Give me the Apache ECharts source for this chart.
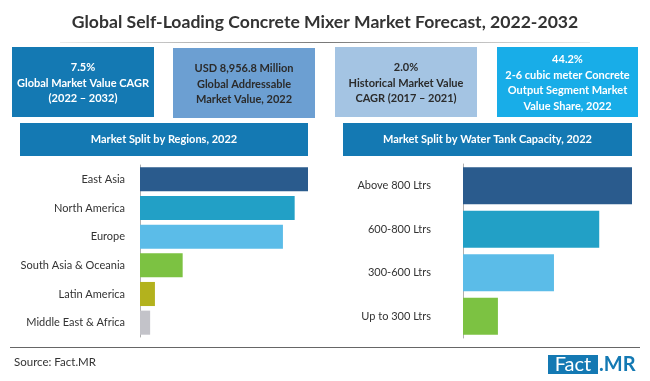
<!DOCTYPE html>
<html>
<head>
<meta charset="utf-8">
<script src="https://cdn.jsdelivr.net/npm/echarts@6/dist/echarts.min.js"></script>
<style>html,body{margin:0;padding:0;background:#fff}#c{width:650px;height:381px}</style>
</head>
<body>
<div id="c"></div>
<script>
var titleText = 'Global Self-Loading Concrete Mixer Market Forecast, 2022-2032';
var kpiTexts = [
  '7.5%\nGlobal Market Value CAGR\n(2022 \u2013 2032)',
  'USD 8,956.8 Million\nGlobal Addressable\nMarket Value, 2022',
  '2.0%\nHistorical Market Value\nCAGR (2017 \u2013 2021)',
  '44.2%\n2-6 cubic meter Concrete\nOutput Segment Market\nValue Share, 2022'
];
var regionTitle = 'Market Split by Regions, 2022';
var regionCategories = ['East Asia', 'North America', 'Europe', 'South Asia & Oceania', 'Latin America', 'Middle East & Africa'];
var regionValues = [31.5, 29.0, 26.8, 8.0, 2.8, 1.9];
var tankTitle = 'Market Split by Water Tank Capacity, 2022';
var tankCategories = ['Above 800 Ltrs', '600-800 Ltrs', '300-600 Ltrs', 'Up to 300 Ltrs'];
var tankValues = [39.2, 31.6, 21.1, 8.1];
var sourceText = 'Source: Fact.MR';

var regionColors = ['#2a5b8d', '#22a0c6', '#5bbce8', '#7cc242', '#b3b21d', '#c3c3c9'];
var tankColors = ['#2a5b8d', '#22a0c6', '#5bbce8', '#7cc242'];
var F = 'Lato, "Noto Sans", sans-serif';

var boxes = [
  {x: 12, y: 47, w: 142, h: 70, fill: '#1479b3', tc: '#ffffff'},
  {x: 173, y: 48, w: 142, h: 70, fill: '#6c9fd2', tc: '#2b2b2b'},
  {x: 335, y: 47, w: 142, h: 70, fill: '#a4c4e3', tc: '#2b2b2b'},
  {x: 497, y: 47, w: 141, h: 70, fill: '#18ade8', tc: '#ffffff'}
];

var graphics = [
  {type: 'text', left: 'center', top: 13, style: {text: titleText, font: 'bold 17.6px ' + F, fill: '#333'}},
  {type: 'rect', shape: {x: 60, y: 42, width: 530, height: 1},
    style: {fill: new echarts.graphic.LinearGradient(0, 0, 1, 0, [
      {offset: 0, color: 'rgba(150,150,150,0.2)'}, {offset: 0.5, color: 'rgba(120,120,120,1)'}, {offset: 1, color: 'rgba(150,150,150,0.2)'}])}},
  {type: 'rect', shape: {x: 10, y: 347, width: 630, height: 1}, style: {fill: '#666'}},
  {type: 'text', x: 14, y: 356, style: {text: sourceText, font: '11.5px ' + F, fill: '#333'}},
  {type: 'rect', shape: {x: 548, y: 355, width: 50, height: 19}, style: {fill: '#1479b3'}},
  {type: 'text', x: 573, y: 365, style: {text: 'Fact', font: '20px ' + F, fill: '#fff', align: 'center', verticalAlign: 'middle'}},
  {type: 'text', x: 599, y: 365, style: {text: '.MR', font: 'bold 20px ' + F, fill: '#1479b3', align: 'left', verticalAlign: 'middle'}},
  {type: 'rect', shape: {x: 20, y: 123, width: 288, height: 33}, style: {fill: '#1479b3'}},
  {type: 'text', x: 164, y: 139.5, style: {text: regionTitle, font: 'bold 11px ' + F, fill: '#fff', align: 'center', verticalAlign: 'middle'}},
  {type: 'rect', shape: {x: 343, y: 123, width: 289, height: 33}, style: {fill: '#1479b3'}},
  {type: 'text', x: 487.5, y: 139.5, style: {text: tankTitle, font: 'bold 11px ' + F, fill: '#fff', align: 'center', verticalAlign: 'middle'}}
];
boxes.forEach(function (b, i) {
  graphics.push({type: 'rect', shape: {x: b.x, y: b.y, width: b.w, height: b.h}, style: {fill: b.fill}});
  graphics.push({type: 'text', x: b.x + b.w / 2, y: b.y + b.h / 2 + 1,
    style: {text: kpiTexts[i], font: 'bold 11px ' + F, lineHeight: 15.5, fill: b.tc, align: 'center', verticalAlign: 'middle'}});
});

var chart = echarts.init(document.getElementById('c'), null, {renderer: 'canvas'});
chart.setOption({
  animation: false,
  backgroundColor: '#fff',
  graphic: graphics,
  grid: [
    {left: 140, width: 168, top: 165, height: 172},
    {left: 463, width: 169, top: 164, height: 174}
  ],
  xAxis: [
    {gridIndex: 0, type: 'value', min: 0, max: regionValues[0], show: false},
    {gridIndex: 1, type: 'value', min: 0, max: tankValues[0], show: false}
  ],
  yAxis: [
    {gridIndex: 0, type: 'category', inverse: true, data: regionCategories,
      axisLine: {show: true, lineStyle: {color: '#b0b0b0'}}, axisTick: {show: false},
      axisLabel: {color: '#333', fontFamily: F, fontSize: 11, margin: 15}},
    {gridIndex: 1, type: 'category', inverse: true, data: tankCategories,
      axisLine: {show: true, lineStyle: {color: '#b0b0b0'}}, axisTick: {show: false},
      axisLabel: {color: '#333', fontFamily: F, fontSize: 11, margin: 32}}
  ],
  series: [
    {type: 'bar', xAxisIndex: 0, yAxisIndex: 0, barCategoryGap: '16%',
      data: regionValues.map(function (v, i) { return {value: v, itemStyle: {color: regionColors[i]}}; })},
    {type: 'bar', xAxisIndex: 1, yAxisIndex: 1, barCategoryGap: '15%',
      data: tankValues.map(function (v, i) { return {value: v, itemStyle: {color: tankColors[i]}}; })}
  ]
});
</script>
</body>
</html>
